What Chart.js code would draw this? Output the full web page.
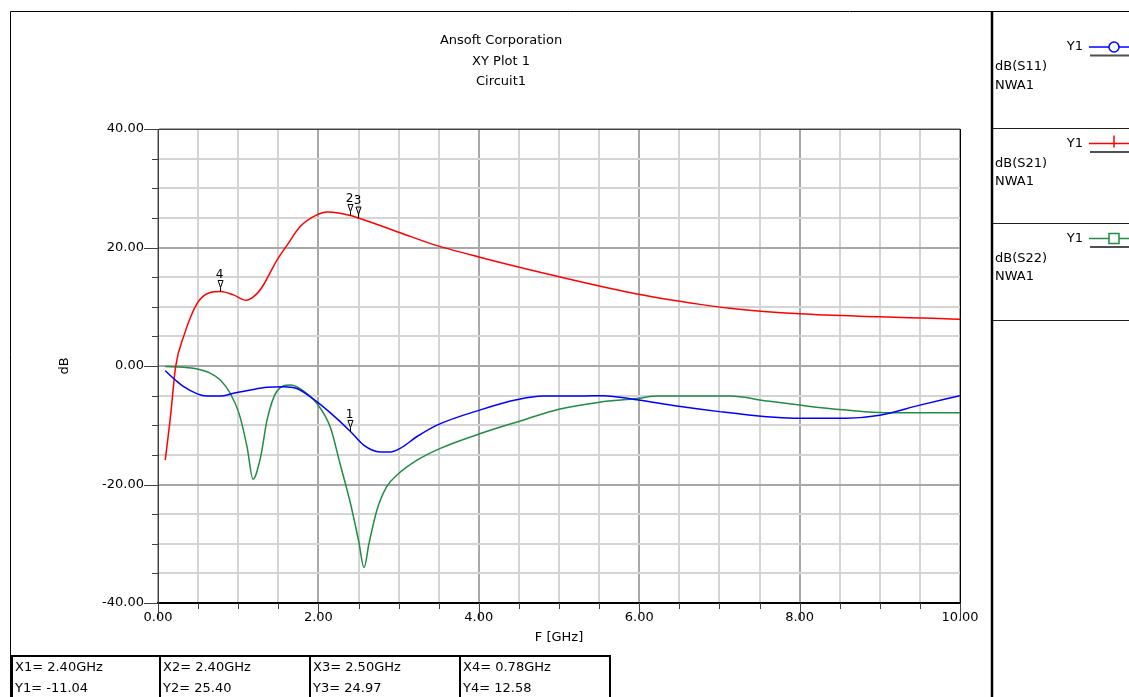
<!DOCTYPE html>
<html><head><meta charset="utf-8">
<script src="https://cdn.jsdelivr.net/npm/chart.js@4/dist/chart.umd.min.js"></script>
<style>html,body{margin:0;padding:0;background:#fff;overflow:hidden}#wrap{position:relative;width:1129px;height:697px}</style>
</head><body><div id="wrap"><canvas id="c" width="1129" height="697"></canvas></div>
<script>
// ---- data ----
const titleLines = ['Ansoft Corporation', 'XY Plot 1', 'Circuit1'];
const xAxisLabel = 'F [GHz]';
const yAxisLabel = 'dB';

const s11Freq = [0.09, 0.22, 0.32, 0.49, 0.61, 0.78, 0.94, 1.15, 1.36, 1.57, 1.73, 1.90, 2.15, 2.40, 2.56, 2.77, 2.90, 3.02, 3.23, 3.48, 4.02, 4.47, 4.80, 5.26, 5.55, 5.97, 6.47, 7.00, 7.59, 7.92, 8.58, 9.00, 9.50, 10.00];
const s11Db   = [-0.8, -2.4, -3.5, -4.7, -5.07, -5.07, -4.6, -4.05, -3.6, -3.5, -3.8, -5.2, -7.9, -11.04, -13.3, -14.5, -14.5, -13.9, -11.9, -9.97, -7.4, -5.7, -5.07, -5.07, -5.0, -5.7, -6.76, -7.7, -8.56, -8.8, -8.8, -8.3, -6.6, -5.0];

const s21Freq = [0.09, 0.155, 0.22, 0.32, 0.49, 0.65, 0.78, 0.94, 1.10, 1.24, 1.32, 1.40, 1.48, 1.61, 1.77, 1.98, 2.11, 2.27, 2.40, 2.50, 3.02, 3.39, 4.00, 4.99, 5.99, 6.76, 7.13, 8.00, 9.00, 9.66, 10.00];
const s21Db   = [-15.9, -8.6, -0.1, 5.0, 10.6, 12.4, 12.58, 12.0, 11.1, 12.3, 13.8, 15.8, 17.8, 20.4, 23.5, 25.5, 26.0, 25.8, 25.40, 24.97, 22.5, 20.7, 18.4, 15.1, 12.1, 10.4, 9.75, 8.8, 8.3, 8.05, 7.9];

const s22Freq = [0.09, 0.32, 0.49, 0.65, 0.78, 0.90, 1.01, 1.11, 1.185, 1.28, 1.36, 1.48, 1.65, 1.77, 1.98, 2.15, 2.27, 2.40, 2.50, 2.57, 2.63, 2.73, 2.85, 2.98, 3.23, 3.52, 4.02, 4.56, 5.00, 5.51, 5.97, 6.22, 7.13, 7.59, 8.00, 8.54, 9.08, 10.00];
const s22Db   = [-0.1, -0.2, -0.5, -1.2, -2.4, -4.6, -8.0, -13.6, -19.1, -15.3, -9.1, -4.3, -3.2, -3.8, -6.3, -10.4, -16.5, -23.2, -29.4, -34.0, -30.0, -24.3, -20.4, -18.4, -15.9, -13.9, -11.4, -9.1, -7.3, -6.1, -5.5, -5.07, -5.07, -5.9, -6.6, -7.4, -7.9, -7.9];

const seriesNames = ['dB(S11)', 'dB(S21)', 'dB(S22)'];
const seriesSetup = ['NWA1', 'NWA1', 'NWA1'];
const seriesAxis  = ['Y1', 'Y1', 'Y1'];
const seriesColors = ['#0000ff', '#ff0000', '#228b45'];

const markerFreq = [2.40, 2.40, 2.50, 0.78];
const markerDb   = [-11.04, 25.40, 24.97, 12.58];
const markerName = ['1', '2', '3', '4'];

const xTickMin = 0, xTickMax = 10, xMinorStep = 0.5, xMajorStep = 2;
const yTickMin = -40, yTickMax = 40, yMinorStep = 5, yMajorStep = 20;

// ---- helpers ----
const FONT = '"DejaVu Sans", "Liberation Sans", Arial, sans-serif';
function pts(fx, fy) { return fx.map((f, i) => ({ x: f, y: fy[i] })); }
function isMajor(v, step) { const r = Math.abs(v / step - Math.round(v / step)); return r < 1e-6; }

const frameLeft = 10, frameTop = 11, legendX = 992;

const decorPlugin = {
  id: 'decor',
  beforeDraw(chart) {
    const ctx = chart.ctx;
    ctx.save();
    ctx.fillStyle = '#fff';
    ctx.fillRect(0, 0, chart.width, chart.height);
    ctx.restore();
  },
  afterDatasetsDraw(chart) {
    const ctx = chart.ctx;
    const xs = chart.scales.x, ys = chart.scales.y;
    const a = chart.chartArea;
    ctx.save();
    ctx.strokeStyle = '#000'; ctx.lineWidth = 1;
    ctx.beginPath(); ctx.moveTo(a.right + 0.5, a.top); ctx.lineTo(a.right + 0.5, a.bottom); ctx.stroke();
    ctx.strokeStyle = '#404040';
    ctx.beginPath(); ctx.moveTo(a.left, a.top + 0.5); ctx.lineTo(a.right, a.top + 0.5); ctx.stroke();
    ctx.strokeStyle = '#404040'; ctx.lineWidth = 1;
    ys.ticks.forEach(t => {
      const y = Math.round(ys.getPixelForValue(t.value)) + 0.5;
      const len = isMajor(t.value, yMajorStep) ? 14 : 6;
      ctx.beginPath(); ctx.moveTo(a.left - len, y); ctx.lineTo(a.left, y); ctx.stroke();
    });
    xs.ticks.forEach(t => {
      const x = Math.round(xs.getPixelForValue(t.value)) + 0.5;
      const len = isMajor(t.value, xMajorStep) ? 17 : 6;
      ctx.beginPath(); ctx.moveTo(x, a.bottom); ctx.lineTo(x, a.bottom + len); ctx.stroke();
    });
    ctx.font = '12px ' + FONT;
    ctx.textAlign = 'center'; ctx.textBaseline = 'middle';
    markerFreq.forEach((f, i) => {
      const px = xs.getPixelForValue(f), py = ys.getPixelForValue(markerDb[i]);
      ctx.strokeStyle = '#000'; ctx.lineWidth = 1;
      ctx.beginPath();
      ctx.moveTo(px - 2.5, py - 11); ctx.lineTo(px + 2.5, py - 11); ctx.lineTo(px, py - 4); ctx.closePath();
      ctx.stroke();
      ctx.beginPath(); ctx.moveTo(px, py - 4); ctx.lineTo(px, py); ctx.stroke();
      ctx.fillStyle = '#000';
      ctx.fillText(markerName[i], px - 1, py - 17);
    });
    ctx.restore();
  },
  afterDraw(chart) {
    const ctx = chart.ctx;
    const a = chart.chartArea;
    ctx.save();
    ctx.fillStyle = '#000';
    ctx.font = '13px ' + FONT;
    ctx.textAlign = 'center'; ctx.textBaseline = 'middle';
    titleLines.forEach((t, i) => ctx.fillText(t, (frameLeft + legendX) / 2, 41 + i * 20.5));
    ctx.fillText(xAxisLabel, (a.left + a.right) / 2, 638);
    ctx.save(); ctx.translate(65, (a.top + a.bottom) / 2); ctx.rotate(-Math.PI / 2);
    ctx.fillText(yAxisLabel, 0, 0); ctx.restore();
    ctx.strokeStyle = '#000'; ctx.lineWidth = 1;
    ctx.beginPath(); ctx.moveTo(frameLeft + 0.5, 697); ctx.lineTo(frameLeft + 0.5, frameTop + 0.5); ctx.lineTo(1129, frameTop + 0.5); ctx.stroke();
    ctx.lineWidth = 2.5;
    ctx.beginPath(); ctx.moveTo(legendX, frameTop); ctx.lineTo(legendX, 697); ctx.stroke();
    const baseY = [47, 143.5, 238.5];
    const sepY = [128.5, 223.5, 320.5];
    ctx.lineWidth = 1; ctx.strokeStyle = '#202020';
    sepY.forEach(y => { ctx.beginPath(); ctx.moveTo(legendX + 1, y); ctx.lineTo(1129, y); ctx.stroke(); });
    seriesNames.forEach((nm, i) => {
      const by = baseY[i];
      ctx.fillStyle = '#000';
      ctx.textAlign = 'right';
      ctx.fillText(seriesAxis[i], 1083, by);
      ctx.textAlign = 'left';
      ctx.fillText(nm, 995, by + 20);
      ctx.fillText(seriesSetup[i], 995, by + 38.5);
      ctx.strokeStyle = seriesColors[i]; ctx.lineWidth = 1.5;
      ctx.beginPath(); ctx.moveTo(1089, by); ctx.lineTo(1129, by); ctx.stroke();
      if (i === 0) {
        ctx.fillStyle = '#fff';
        ctx.beginPath(); ctx.arc(1114, by, 5, 0, Math.PI * 2); ctx.fill(); ctx.stroke();
      } else if (i === 1) {
        ctx.beginPath(); ctx.moveTo(1114, by - 8); ctx.lineTo(1114, by + 4); ctx.stroke();
      } else {
        ctx.fillStyle = '#fff';
        ctx.fillRect(1109, by - 5, 10, 10); ctx.strokeRect(1109, by - 5, 10, 10);
      }
      ctx.strokeStyle = '#505050'; ctx.lineWidth = 2;
      ctx.beginPath(); ctx.moveTo(1090, by + 8.5); ctx.lineTo(1129, by + 8.5); ctx.stroke();
    });
    const cellX = [12, 160, 310, 460, 610];
    const tableTop = 656;
    ctx.strokeStyle = '#000'; ctx.lineWidth = 2;
    ctx.beginPath(); ctx.moveTo(cellX[0], 697); ctx.lineTo(cellX[0], tableTop); ctx.lineTo(cellX[4], tableTop); ctx.lineTo(cellX[4], 697); ctx.stroke();
    for (let k = 1; k < 4; k++) { ctx.beginPath(); ctx.moveTo(cellX[k], tableTop); ctx.lineTo(cellX[k], 697); ctx.stroke(); }
    ctx.fillStyle = '#000'; ctx.textAlign = 'left';
    markerFreq.forEach((f, i) => {
      ctx.fillText('X' + markerName[i] + '= ' + f.toFixed(2) + 'GHz', cellX[i] + 3, 668);
      ctx.fillText('Y' + markerName[i] + '= ' + markerDb[i].toFixed(2), cellX[i] + 3, 689);
    });
    ctx.restore();
  }
};

function mkDataset(label, fx, fy, color) {
  return {
    label, data: pts(fx, fy), showLine: true, borderColor: color, backgroundColor: color,
    borderWidth: 1.5, pointRadius: 0, cubicInterpolationMode: 'monotone', fill: false
  };
}

new Chart(document.getElementById('c'), {
  type: 'scatter',
  data: {
    datasets: [
      mkDataset(seriesNames[0], s11Freq, s11Db, seriesColors[0]),
      mkDataset(seriesNames[1], s21Freq, s21Db, seriesColors[1]),
      mkDataset(seriesNames[2], s22Freq, s22Db, seriesColors[2])
    ]
  },
  options: {
    responsive: false, animation: false, devicePixelRatio: 1,
    layout: { padding: { left: 10, right: 169, top: 129, bottom: 0 } },
    plugins: { legend: { display: false }, title: { display: false }, tooltip: { enabled: false } },
    scales: {
      x: {
        type: 'linear', min: xTickMin, max: xTickMax,
        afterFit(s) { s.height = 94; },
        grid: { color: c => isMajor(c.tick.value, xMajorStep) ? '#a8a8a8' : '#d4d4d4', lineWidth: 2, drawTicks: false },
        border: { display: true, color: '#000', width: 2 },
        ticks: { stepSize: xMinorStep, autoSkip: false, maxRotation: 0, padding: 7, color: '#000',
          font: { family: FONT, size: 13 },
          callback: v => isMajor(v, xMajorStep) ? Number(v).toFixed(2) : '' }
      },
      y: {
        type: 'linear', min: yTickMin, max: yTickMax,
        afterFit(s) { s.width = 148; },
        grid: { color: c => isMajor(c.tick.value, yMajorStep) ? '#a8a8a8' : '#d4d4d4', lineWidth: 2, drawTicks: false },
        border: { display: true, color: '#404040', width: 1 },
        ticks: { stepSize: yMinorStep, autoSkip: false, padding: 14, color: '#000',
          font: { family: FONT, size: 13 },
          callback: v => isMajor(v, yMajorStep) ? Number(v).toFixed(2) : '' }
      }
    }
  },
  plugins: [decorPlugin]
});
</script>
</body></html>
